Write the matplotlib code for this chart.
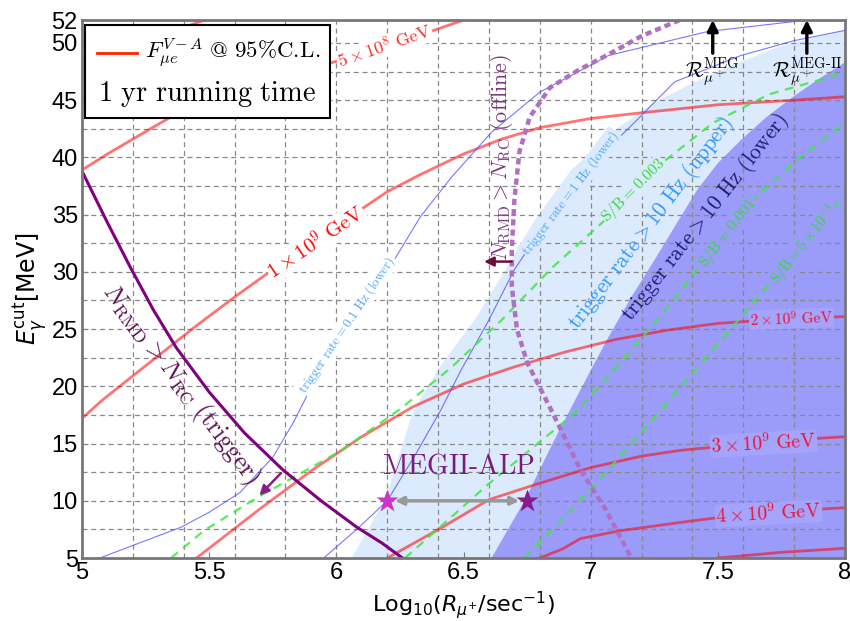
import matplotlib
matplotlib.use("Agg")
import matplotlib.pyplot as plt
import numpy as np
from matplotlib.patches import Rectangle, Polygon

plt.rcParams["mathtext.fontset"] = "cm"
plt.rcParams["font.family"] = ["Liberation Sans", "DejaVu Sans"]

# ---- shaded regions (trigger rate > 10 Hz) ----
upper_x = [6.06, 6.19, 6.30, 6.40, 6.55, 6.66, 6.78, 6.92, 7.07, 7.25, 7.41, 7.57, 7.72, 7.86, 8.0]
upper_y = [5.0, 10.0, 17.7, 21.5, 26.0, 30.0, 34.5, 38.8, 42.0, 44.8, 46.6, 48.2, 49.5, 50.4, 51.1]
lower_x = [6.61, 6.74, 6.85, 7.0, 7.07, 7.16, 7.25, 7.34, 7.42, 7.50, 7.59, 7.69, 7.79, 7.90, 8.0]
lower_y = [5.0, 10.0, 15.0, 21.4, 24.3, 27.8, 31.0, 34.3, 37.2, 39.5, 41.5, 43.5, 45.2, 46.9, 48.3]

# ---- F_mue^{V-A} contours ----
f_a_x = [5.0, 5.12, 5.25, 5.37, 5.48]
f_a_y = [48.0, 49.1, 50.2, 51.1, 52.0]
f5e8_x = [5.0, 5.1, 5.2, 5.3, 5.41, 5.55, 5.7, 5.85, 6.0, 6.12, 6.25, 6.37, 6.5]
f5e8_y = [38.9, 40.3, 41.6, 42.9, 44.3, 45.3, 46.4, 47.4, 48.4, 49.3, 50.2, 51.0, 52.0]
f1e9_x = [5.0, 5.08, 5.25, 5.45, 5.6, 5.75, 5.92, 6.08, 6.2, 6.33, 6.5, 6.65, 6.8, 7.0, 7.2, 7.5, 7.8, 8.0]
f1e9_y = [17.2, 18.8, 21.8, 25.3, 27.8, 30.2, 32.8, 35.2, 37.0, 38.5, 40.3, 41.6, 42.6, 43.4, 43.9, 44.6, 45.0, 45.3]
f2e9_x = [5.45, 5.7, 5.9, 6.1, 6.3, 6.5, 6.7, 6.9, 7.1, 7.3, 7.5, 7.7, 8.0]
f2e9_y = [5.0, 9.3, 12.6, 15.6, 18.2, 20.2, 21.7, 23.0, 24.1, 24.9, 25.5, 25.8, 26.1]
f3e9_x = [6.2, 6.41, 6.6, 6.78, 7.0, 7.2, 7.35, 7.49, 7.7, 8.0]
f3e9_y = [5.0, 7.6, 10.1, 11.4, 12.9, 13.9, 14.4, 14.7, 15.2, 15.6]
f4e9_x = [6.80, 6.89, 6.96, 7.12, 7.35, 7.49, 7.7, 8.0]
f4e9_y = [5.0, 5.8, 6.7, 7.4, 8.1, 8.5, 9.0, 9.4]
f_g_x = [7.5, 7.75, 8.0]
f_g_y = [5.0, 5.5, 5.85]

# ---- trigger-rate contours (thin blue) ----
tr01_x = [5.07, 5.2, 5.39, 5.5, 5.62, 5.75, 5.83, 5.91, 6.06, 6.21, 6.33, 6.45, 6.61, 6.80, 7.07, 7.46, 7.85]
tr01_y = [5.0, 6.1, 7.7, 9.0, 10.7, 13.8, 16.8, 20.3, 25.4, 30.4, 34.8, 38.2, 42.2, 45.7, 48.9, 51.0, 52.0]
tr1_x = [5.95, 6.08, 6.20, 6.31, 6.41, 6.49, 6.60, 6.70, 6.80, 6.92, 7.05, 7.17, 7.33, 7.59, 7.8, 8.0]
tr1_y = [5.0, 7.5, 10.0, 14.0, 17.9, 21.4, 25.8, 30.2, 33.5, 37.0, 40.4, 43.0, 46.6, 48.9, 50.2, 51.1]

# ---- S/B contours (green dashed) ----
sb003_x = [5.35, 5.48, 5.69, 5.86, 6.02, 6.25, 6.45, 6.65, 6.85, 7.07, 7.28, 7.48, 7.7, 8.0]
sb003_y = [5.0, 7.4, 10.3, 12.4, 14.4, 18.0, 21.6, 25.8, 30.4, 34.8, 39.5, 43.0, 45.5, 47.4]
sb001_x = [6.27, 6.6, 6.94, 7.09, 7.27, 7.44, 7.64, 7.8, 8.0]
sb001_y = [5.0, 11.5, 17.7, 21.4, 26.0, 30.8, 36.3, 39.6, 43.0]
sb5e4_x = [6.74, 7.0, 7.2, 7.41, 7.6, 7.75, 7.9, 8.0]
sb5e4_y = [5.0, 11.0, 16.0, 21.4, 26.3, 30.2, 34.0, 36.8]

# ---- N_RMD > N_RC ----
trig_x = [5.0, 5.1, 5.19, 5.28, 5.37, 5.5, 5.64, 5.79, 5.94, 6.08, 6.18, 6.26]
trig_y = [38.8, 34.3, 30.4, 26.7, 23.4, 19.5, 15.9, 12.7, 10.0, 7.7, 6.3, 5.0]
off_x = [7.35, 7.2, 7.07, 6.95, 6.84, 6.76, 6.72, 6.70, 6.69, 6.69, 6.71, 6.75, 6.85, 6.96, 7.06, 7.16]
off_y = [52.0, 50.6, 49.0, 47.6, 46.1, 43.5, 40.5, 36.3, 32.0, 28.7, 25.0, 22.1, 17.7, 12.7, 9.2, 5.0]

# ---- MEGII-ALP and rate markers ----
alp_x = [6.2, 6.75]
alp_y = [10.0, 10.0]
meg_rates = [7.48, 7.85]
meg_labels = [r"$\mathcal{R}_{\mu^+}^{\rm MEG}$", r"$\mathcal{R}_{\mu^+}^{\rm MEG\text{-}II}$"]

x_ticks = [5, 5.5, 6, 6.5, 7, 7.5, 8]
x_ticklabels = ["5", "5.5", "6", "6.5", "7", "7.5", "8"]
y_ticks = [5, 10, 15, 20, 25, 30, 35, 40, 45, 50, 52]

fig = plt.figure(figsize=(8.5, 6.21), dpi=100)
ax = fig.add_axes([0.0965, 0.1014, 0.8976, 0.8663])
ax.set_xlim(5, 8)
ax.set_ylim(5, 52)

# fills
ax.add_patch(Polygon(list(zip(upper_x, upper_y)) + [(8, 5)], closed=True,
                     facecolor="#dbeafc", edgecolor="none", zorder=1))
ax.add_patch(Polygon(list(zip(lower_x, lower_y)) + [(8, 5)], closed=True,
                     facecolor="#9b9bfa", edgecolor="none", zorder=1.1))

# grid
for gx in np.arange(5.2, 8.0, 0.2):
    ax.axvline(gx, color="#888888", lw=0.9, ls=(0, (4, 3)), zorder=2)
for gy in np.arange(7.5, 52, 2.5):
    ax.axhline(gy, color="#888888", lw=0.9, ls=(0, (4, 3)), zorder=2)

red_kw = dict(color="red", alpha=0.55, lw=2.0, zorder=3)
for xs, ys in [(f_a_x, f_a_y), (f5e8_x, f5e8_y), (f1e9_x, f1e9_y), (f2e9_x, f2e9_y),
               (f3e9_x, f3e9_y), (f4e9_x, f4e9_y), (f_g_x, f_g_y)]:
    ax.plot(xs, ys, **red_kw)

blue_kw = dict(color="#4a4aff", alpha=0.75, lw=0.8, zorder=3)
ax.plot(tr01_x, tr01_y, **blue_kw)
ax.plot(tr1_x, tr1_y, **blue_kw)

green_kw = dict(color="#3fe83f", alpha=0.85, lw=1.6, ls=(0, (4, 3)), zorder=3)
for xs, ys in [(sb003_x, sb003_y), (sb001_x, sb001_y), (sb5e4_x, sb5e4_y)]:
    ax.plot(xs, ys, **green_kw)

ax.plot(trig_x, trig_y, color="#800080", lw=2.2, zorder=4)
ax.plot(off_x, off_y, color="#b070c0", lw=3.2, ls=(0, (1.4, 0.9)), zorder=4)

# arrows for N_RMD > N_RC
ax.annotate("", xy=(5.69, 10.3), xytext=(5.79, 12.6),
            arrowprops=dict(arrowstyle="-|>", color="#8b1a8b", lw=1.8, mutation_scale=14), zorder=5)
ax.annotate("", xy=(6.57, 30.9), xytext=(6.70, 30.9),
            arrowprops=dict(arrowstyle="-|>", color="#6b0f3a", lw=1.8, mutation_scale=14), zorder=5)

# MEGII-ALP
ax.annotate("", xy=(alp_x[0] + 0.02, alp_y[0]), xytext=(alp_x[1] - 0.02, alp_y[1]),
            arrowprops=dict(arrowstyle="<|-|>", color="#999999", lw=2.5, mutation_scale=12), zorder=5)
ax.plot(alp_x[0], alp_y[0], marker="*", ms=17, color="#cc33cc", mec="none", zorder=6)
ax.plot(alp_x[1], alp_y[1], marker="*", ms=17, color="#8b1a8b", mec="none", zorder=6)
ax.text(6.48, 13.0, r"$\mathrm{MEGII\text{-}ALP}$", color="#7a1a7a", fontsize=20,
        ha="center", va="center", zorder=6)

# MEG rate markers
for rx, lab in zip(meg_rates, meg_labels):
    ax.annotate("", xy=(rx, 52), xytext=(rx, 49.1),
                arrowprops=dict(arrowstyle="-|>", color="black", lw=2.4, mutation_scale=16,
                                shrinkA=0, shrinkB=0),
                annotation_clip=False, zorder=7)
    ax.text(rx, 48.9, lab, fontsize=15, ha="center", va="top", zorder=7)

# curve labels
white_box = dict(facecolor="white", edgecolor="none", pad=0.5)
blue_box = dict(facecolor="#a4a4fb", edgecolor="none", pad=0.5)
ax.text(6.19, 49.7, r"$5\times10^8\ \mathrm{GeV}$", color="red", fontsize=13, rotation=19,
        ha="center", va="center", bbox=white_box, zorder=5, alpha=0.85)
ax.text(5.92, 32.6, r"$1\times10^9\ \mathrm{GeV}$", color="red", fontsize=15, rotation=34,
        ha="center", va="center", bbox=white_box, zorder=5)
ax.text(7.79, 25.9, r"$2\times10^9\ \mathrm{GeV}$", color="#ee1133", fontsize=11, rotation=2,
        ha="center", va="center", bbox=blue_box, zorder=5)
ax.text(7.68, 15.0, r"$3\times10^9\ \mathrm{GeV}$", color="#ee1133", fontsize=14, rotation=3,
        ha="center", va="center", bbox=blue_box, zorder=5)
ax.text(7.70, 8.9, r"$4\times10^9\ \mathrm{GeV}$", color="#ee1133", fontsize=14, rotation=3,
        ha="center", va="center", bbox=blue_box, zorder=5)

ax.text(6.04, 25.4, r"$\mathrm{trigger\ rate} = 0.1\ \mathrm{Hz\ (lower)}$", color="#4da6ff",
        fontsize=9.5, rotation=56, ha="center", va="center", bbox=white_box, zorder=5)
ax.text(6.92, 36.9, r"$\mathrm{trigger\ rate} = 1\ \mathrm{Hz\ (lower)}$", color="#4da6ff",
        fontsize=9.5, rotation=53, ha="center", va="center",
        bbox=dict(facecolor="#dbeafc", edgecolor="none", pad=0.5), zorder=5)
ax.text(7.24, 34.3, r"$\mathrm{trigger\ rate} > 10\ \mathrm{Hz\ (upper)}$", color="#3399ff",
        fontsize=15.5, rotation=53, ha="center", va="center", zorder=5)
ax.text(7.45, 34.7, r"$\mathrm{trigger\ rate} > 10\ \mathrm{Hz\ (lower)}$", color="#1c1c70",
        fontsize=15.5, rotation=52, ha="center", va="center", zorder=5)

ax.text(7.17, 37.1, r"$\mathrm{S/B} = 0.003$", color="#33dd33", fontsize=11.5, rotation=45,
        ha="center", va="center", bbox=dict(facecolor="#dbeafc", edgecolor="none", pad=0.3), zorder=5)
ax.text(7.54, 33.4, r"$\mathrm{S/B} = 0.001$", color="#33dd33", fontsize=11.5, rotation=52,
        ha="center", va="center", bbox=dict(facecolor="#9b9bfa", edgecolor="none", pad=0.3), zorder=5)
ax.text(7.84, 32.4, r"$\mathrm{S/B} = 5\times10^{-4}$", color="#33dd33", fontsize=10.5, rotation=52,
        ha="center", va="center", bbox=dict(facecolor="#9b9bfa", edgecolor="none", pad=0.3), zorder=5)

ax.text(5.39, 20.2, r"$N_{\rm RMD} > N_{\rm RC}\ \mathrm{(trigger)}$", color="#5a1050",
        fontsize=18.5, rotation=-53, ha="center", va="center", zorder=5)
ax.text(6.65, 40.0, r"$N_{\rm RMD} > N_{\rm RC}\ \mathrm{(offline)}$", color="#7a3a7a",
        fontsize=16, rotation=90, ha="center", va="center", zorder=5)

# legend box
ax.add_patch(Rectangle((0.004, 0.818), 0.321, 0.173, transform=ax.transAxes,
                       facecolor="white", edgecolor="black", lw=1.5, zorder=10))
ax.plot([0.020, 0.072], [0.939, 0.939], transform=ax.transAxes, color="#ff2200", lw=2, zorder=11)
ax.text(0.082, 0.939, r"$F_{\mu e}^{V-A}\ \mathrm{@\ 95\%C.\!L.}$", transform=ax.transAxes,
        fontsize=16.5, ha="left", va="center", zorder=11)
ax.text(0.164, 0.862, r"$\mathrm{1\ yr\ running\ time}$", transform=ax.transAxes,
        fontsize=20.5, ha="center", va="center", zorder=11)

# axes styling
ax.set_xticks(x_ticks)
ax.set_xticklabels(x_ticklabels)
ax.set_yticks(y_ticks)
ax.tick_params(direction="in", length=4, width=0.8, color="#777777", labelsize=17, pad=3)
for sp in ax.spines.values():
    sp.set_color("#777777")
    sp.set_linewidth(2)
    sp.set_zorder(12)

ax.set_xlabel(r"$\mathsf{Log}_{10}(R_{\mu^{+}}/\mathsf{sec}^{-1})$", fontsize=16,
              math_fontfamily="dejavusans")
ax.xaxis.set_label_coords(0.5, -0.058)
ax.set_ylabel(r"$E_{\gamma}^{\mathsf{cut}}\mathsf{[MeV]}$", fontsize=17,
              math_fontfamily="dejavusans", labelpad=2)

fig.savefig("out.png", dpi=100)
